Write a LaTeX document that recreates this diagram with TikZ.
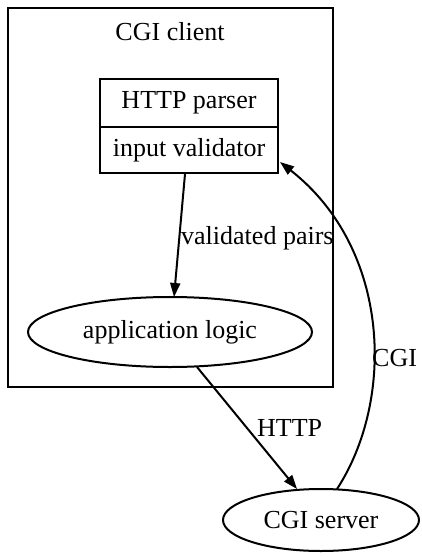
\documentclass[tikz,border=0pt]{standalone}
\usepackage{fontspec}
\setmainfont{Liberation Serif}
\usetikzlibrary{arrows.meta}
\begin{document}
\begin{tikzpicture}[x=1pt,y=-1pt,
  every node/.style={font=\fontsize{26pt}{30pt}\selectfont},
  line/.style={line width=2pt},
  arr/.style={line, -{Triangle[length=14pt,width=10pt]}}]
\useasboundingbox (0,0) rectangle (422,557);
% cluster
\draw[line] (8,8) rectangle (333,387);
\node (cl) at (170,32) {CGI client};
% record
\draw[line] (100,79) rectangle (278,173);
\draw[line] (100,127) -- (278,127);
\node (parser) at (189,103) {HTTP parser};
\node (valid) at (189,150) {input validator};
\coordinate (recbot) at (185,174);
\coordinate (recright) at (280,162);
% ellipses
\draw[line] (170,332) ellipse [x radius=142, y radius=35];
\node (app) at (170,332) {application logic};
\coordinate (apptop) at (174,297);
\coordinate (appbot) at (197,367);
\draw[line] (321,520) ellipse [x radius=98, y radius=31];
\node (srv) at (321,520) {CGI server};
\coordinate (srvtop) at (297,489);
\coordinate (srvtop2) at (337,489);
% edges
\draw[arr] (recbot) -- (apptop);
\node[anchor=west, inner sep=0pt] (lv) at (181,238) {validated pairs};
\draw[arr] (appbot) -- (srvtop);
\node[anchor=west, inner sep=0pt] (lh) at (257,428) {HTTP};
\draw[arr] (srvtop2) .. controls (395,400) and (391,249) .. (recright);
\node[anchor=west, inner sep=0pt] (lc) at (372,358) {CGI};
\end{tikzpicture}
\end{document}
